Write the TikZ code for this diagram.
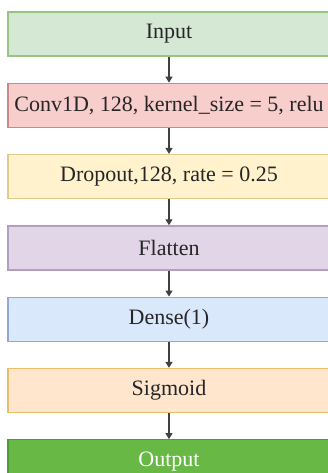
\documentclass[tikz,border=0pt]{standalone}
\usepackage{fontspec}
\setmainfont{Liberation Serif}
\newfontfamily\layerfont{Liberation Serif}
\usepackage{xcolor}
\usetikzlibrary{arrows.meta,positioning}

\definecolor{inFill}{HTML}{D5E8D4}\definecolor{inLine}{HTML}{97C47E}
\definecolor{convFill}{HTML}{F8CECC}\definecolor{convLine}{HTML}{C98A87}
\definecolor{dropFill}{HTML}{FFF2CC}\definecolor{dropLine}{HTML}{E0CC88}
\definecolor{flatFill}{HTML}{E1D5E7}\definecolor{flatLine}{HTML}{B39DC0}
\definecolor{denseFill}{HTML}{DAE8FC}\definecolor{denseLine}{HTML}{8FAAD3}
\definecolor{sigFill}{HTML}{FFE6CC}\definecolor{sigLine}{HTML}{EBBE6A}
\definecolor{outFill}{HTML}{68B846}\definecolor{outLine}{HTML}{4E9A35}

\tikzset{
	layerbox/.style={draw, line width=1.3pt, minimum width=322pt, minimum height=44pt,
		inner sep=0pt, text=black!85, font=\layerfont\fontsize{22}{25}\selectfont},
	flowarrow/.style={-{Triangle[width=7pt,length=6pt]}, line width=1.3pt, draw=black!75}
}

\begin{document}
\begin{tikzpicture}[x=1pt, y=1pt, node distance=26pt]
	\useasboundingbox (0,0) rectangle (328,-473);
	
	\node[layerbox, fill=inFill, draw=inLine] (input) at (169,-34) {Input};
	\node[layerbox, fill=convFill, draw=convLine, below=of input] (conv) {Conv1D, 128, kernel\_size = 5, relu};
	\node[layerbox, fill=dropFill, draw=dropLine, below=of conv] (drop) {Dropout,128, rate = 0.25};
	\node[layerbox, fill=flatFill, draw=flatLine, below=of drop] (flat) {Flatten};
	\node[layerbox, fill=denseFill, draw=denseLine, below=of flat] (dense) {Dense(1)};
	\node[layerbox, fill=sigFill, draw=sigLine, below=of dense] (sig) {Sigmoid};
	\node[layerbox, fill=outFill, draw=outLine, text=white, below=of sig] (output) {Output};
	
	\draw[flowarrow] (input) -- (conv);
	\draw[flowarrow] (conv) -- (drop);
	\draw[flowarrow] (drop) -- (flat);
	\draw[flowarrow] (flat) -- (dense);
	\draw[flowarrow] (dense) -- (sig);
	\draw[flowarrow] (sig) -- (output);
\end{tikzpicture}
\end{document}
